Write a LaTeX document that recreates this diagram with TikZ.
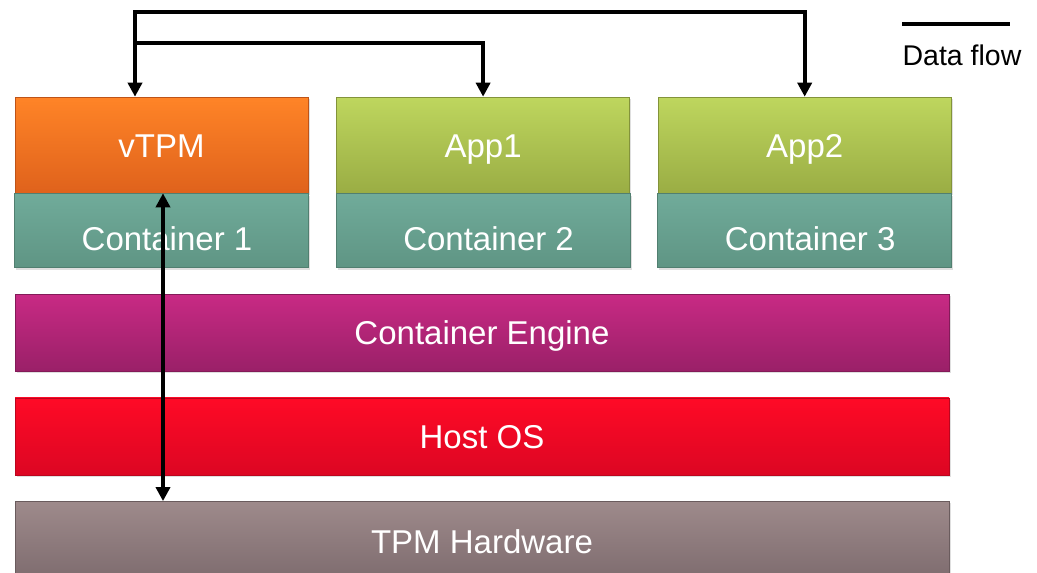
\documentclass[tikz,border=0pt]{standalone}
\usepackage{fontspec}
\setmainfont{Liberation Sans}
\usetikzlibrary{positioning,arrows.meta,shadows}

\definecolor{vtpmTop}{HTML}{FF8427}
\definecolor{vtpmBot}{HTML}{DF621C}
\definecolor{appTop}{HTML}{BED65E}
\definecolor{appBot}{HTML}{9AAD44}
\definecolor{contTop}{HTML}{70AB9A}
\definecolor{contBot}{HTML}{5F9584}
\definecolor{engTop}{HTML}{C82A84}
\definecolor{engBot}{HTML}{9A2068}
\definecolor{hostTop}{HTML}{FF0A26}
\definecolor{hostBot}{HTML}{DC0623}
\definecolor{hwTop}{HTML}{9E8A8B}
\definecolor{hwBot}{HTML}{7D6B6E}

\tikzset{
	layer/.style={rectangle,inner sep=0pt,line width=0.6pt,text=white,
		font=\fontsize{33}{40}\selectfont,text height=24pt,text depth=0pt,
		drop shadow={opacity=0.25,shadow xshift=1.5pt,shadow yshift=-2pt}},
	vtpmbox/.style={layer,top color=vtpmTop,bottom color=vtpmBot,draw=vtpmBot!85!black,
		minimum width=293pt,minimum height=96pt},
	appbox/.style={layer,top color=appTop,bottom color=appBot,draw=appBot!85!black,
		minimum width=293pt,minimum height=96pt},
	contbox/.style={layer,top color=contTop,bottom color=contBot,draw=contBot!85!black,
		minimum width=294pt,minimum height=74pt,text height=40pt,
		execute at begin node=\hspace{11pt}},
	wide/.style={layer,minimum width=934pt,minimum height=77pt},
	flow/.style={line width=4.2pt,black},
	tip/.tip={Triangle[length=14pt,width=14pt]}
}

\begin{document}
\begin{tikzpicture}[x=1pt,y=-1pt,node distance=0pt]
	\useasboundingbox (0,0) rectangle (1037,573);
	% Place nodes
	\node [vtpmbox] (vtpm) at (161.5,145) {vTPM};
	\node [contbox,below=0pt of vtpm] (cont1) {Container 1};
	\node [appbox,right=28pt of vtpm] (app1) {App1};
	\node [contbox,below=0pt of app1] (cont2) {Container 2};
	\node [appbox,right=28pt of app1] (app2) {App2};
	\node [contbox,below=0pt of app2] (cont3) {Container 3};

	\node [wide,top color=engTop,bottom color=engBot,draw=engBot!85!black,
		below=26pt of vtpm.south west |- cont1.south,anchor=north west] (engine) {Container Engine};
	\node [wide,top color=hostTop,bottom color=hostBot,draw=hostBot!85!black,
		below=26pt of engine] (host) {Host OS};
	\node [wide,top color=hwTop,bottom color=hwBot,draw=hwBot!85!black,
		minimum height=80pt,below=26pt of host] (hw) {TPM Hardware};

	% Data flow
	\draw [flow,tip-tip] ([xshift=-26.5pt]vtpm.north) -- ++(0,-85) -| (app2.north);
	\draw [flow,-tip] ([xshift=-26.5pt,yshift=54pt]vtpm.north) -| (app1.north);
	\draw [flow,tip-tip] ([xshift=1.5pt]vtpm.south) -- ([xshift=1.5pt]vtpm.south |- hw.north);

	% Legend
	\coordinate (lgstart) at (902,24);
	\coordinate (lgend) at (1010,24);
	\draw [flow] (lgstart) -- (lgend);
	\node [font=\fontsize{28.5}{34}\selectfont,inner sep=0pt] (lgtext) at (962,55) {Data flow};
\end{tikzpicture}
\end{document}
